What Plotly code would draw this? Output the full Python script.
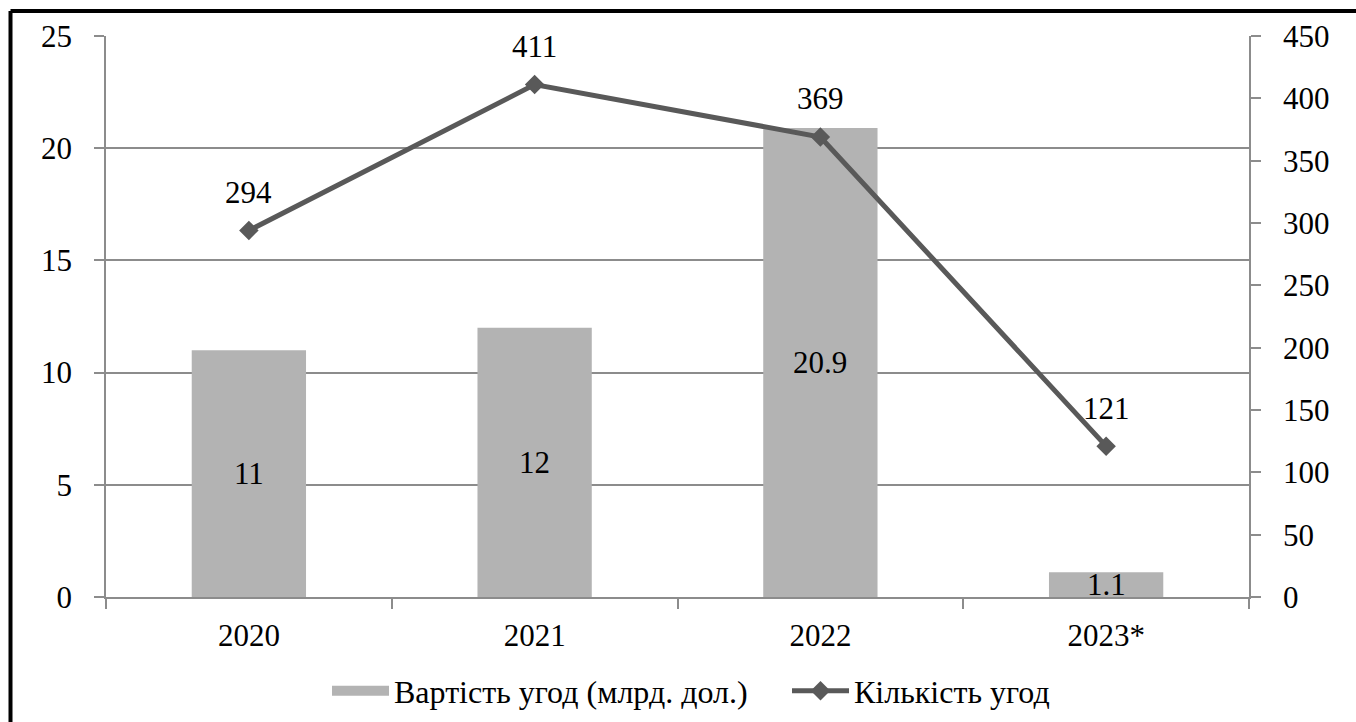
import plotly.graph_objects as go

# Chart data
years = ["2020", "2021", "2022", "2023*"]
deal_value = [11, 12, 20.9, 1.1]          # млрд. дол.
deal_count = [294, 411, 369, 121]

value_name = "Вартість угод (млрд. дол.)"
count_name = "Кількість угод"

FONT = "Liberation Serif"
NUM_SIZE = 31
GRID = "#8c8c8c"
BAR = "#b3b3b3"
LINE = "#595959"

W, H = 1356, 722
L, R, T, B = 106, 107, 36, 125
PW, PH = W - L - R, H - T - B


def px_x(x):
    return (x - L) / PW


def px_y(y):
    return (H - B - y) / PH


fig = go.Figure()

fig.add_trace(go.Bar(
    x=years, y=deal_value, name=value_name, showlegend=False,
    marker=dict(color=BAR, line=dict(width=0)),
    width=0.4, yaxis="y",
))

# legend entry for the bars: a wide filled swatch
fig.add_trace(go.Scatter(
    x=[None], y=[None], name=value_name, mode="lines",
    line=dict(color=BAR, width=16), yaxis="y",
))

fig.add_trace(go.Scatter(
    x=years, y=deal_count, name=count_name, yaxis="y2",
    mode="lines+markers",
    line=dict(color=LINE, width=5),
    marker=dict(symbol="diamond", size=15, color=LINE),
))

annotations = []
# bar labels centred in each bar (category axis uses serial positions)
for i, v in enumerate(deal_value):
    annotations.append(dict(
        x=i, y=v / 2, xref="x", yref="y", text=f"{v:g}",
        showarrow=False, font=dict(family=FONT, size=NUM_SIZE, color="black"),
        yanchor="middle",
    ))
# count labels above each point
for i, c in enumerate(deal_count):
    annotations.append(dict(
        x=i, y=c, xref="x", yref="y2", text=str(c),
        showarrow=False, font=dict(family=FONT, size=NUM_SIZE, color="black"),
        yanchor="middle", yshift=38,
    ))

# outer frame (left and top edges visible)
shapes = [
    dict(type="line", xref="paper", yref="paper",
         x0=px_x(10.5), x1=px_x(W + 10), y0=px_y(11), y1=px_y(11),
         line=dict(color="black", width=4)),
    dict(type="line", xref="paper", yref="paper",
         x0=px_x(10.5), x1=px_x(10.5), y0=px_y(11), y1=px_y(H + 10),
         line=dict(color="black", width=4)),
]

tickfont = dict(family=FONT, size=NUM_SIZE, color="black")

fig.update_layout(
    width=W, height=H,
    margin=dict(l=L, r=R, t=T, b=B, pad=0, autoexpand=False),
    paper_bgcolor="white", plot_bgcolor="white",
    font=dict(family=FONT, size=NUM_SIZE, color="black"),
    bargap=0.6,
    showlegend=True,
    legend=dict(
        orientation="h", x=px_x(327), xanchor="left", y=px_y(691), yanchor="middle",
        font=dict(family=FONT, size=32, color="black"),
        itemwidth=57, entrywidth=388, entrywidthmode="pixels",
        traceorder="normal", bgcolor="rgba(0,0,0,0)",
    ),
    xaxis=dict(
        type="category", range=[-0.5, len(years) - 0.5], autorange=False,
        showgrid=False, showline=True, linecolor=GRID, linewidth=1.5,
        ticks="outside", tickson="boundaries", ticklen=10, tickcolor=GRID, tickwidth=1.5,
        tickfont=tickfont, tickangle=0, ticklabelstandoff=10,
    ),
    yaxis=dict(
        range=[0, 25], autorange=False, dtick=5, showgrid=True, gridcolor=GRID, gridwidth=1.5,
        showline=True, linecolor=GRID, linewidth=1.5, zeroline=False,
        ticks="outside", ticklen=10, tickcolor=GRID, tickwidth=1.5,
        tickfont=tickfont, ticklabelstandoff=16,
    ),
    yaxis2=dict(
        range=[0, 450], autorange=False, dtick=50, overlaying="y", side="right", showgrid=False,
        showline=True, linecolor=GRID, linewidth=1.5, zeroline=False,
        ticks="outside", ticklen=10, tickcolor=GRID, tickwidth=1.5,
        tickfont=tickfont, ticklabelstandoff=16,
    ),
    annotations=annotations,
    shapes=shapes,
)

fig.write_html("out.html")
